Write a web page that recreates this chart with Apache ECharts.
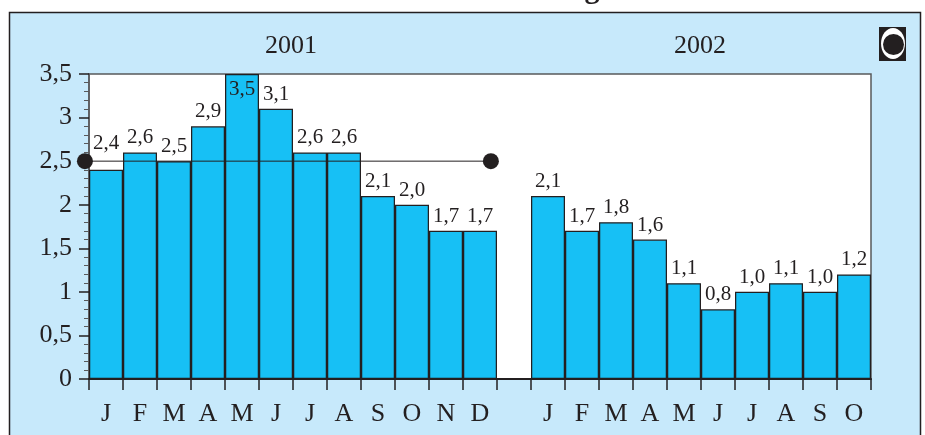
<!DOCTYPE html>
<html><head><meta charset="utf-8">
<style>html,body{margin:0;padding:0;background:#fff}#c{width:925px;height:435px}</style>
<script src="https://cdn.jsdelivr.net/npm/echarts@6/dist/echarts.min.js"></script>
</head><body><div id="c"></div>
<script>
const categories = ['J','F','M','A','M','J','J','A','S','O','N','D','','J','F','M','A','M','J','J','A','S','O'];
const values = [2.4,2.6,2.5,2.9,3.5,3.1,2.6,2.6,2.1,2.0,1.7,1.7,null,2.1,1.7,1.8,1.6,1.1,0.8,1.0,1.1,1.0,1.2];
const valueLabels = ['2,4','2,6','2,5','2,9','3,5','3,1','2,6','2,6','2,1','2,0','1,7','1,7','','2,1','1,7','1,8','1,6','1,1','0,8','1,0','1,1','1,0','1,2'];
const averageLinePoints = [[-0.12,2.5],[11.82,2.5]];
const yearLabels = ['2001','2002'];
const font = '"Liberation Serif","Times New Roman",serif';
const ink = '#231f20';
const chart = echarts.init(document.getElementById('c'),null,{renderer:'canvas'});
const L=89,R=871,T=74,B=379;
const barData = values.map((v,i)=>{
  if(v===null) return null;
  if(i===4) return {value:v,label:{position:'insideTop',distance:5}};
  if(i===0) return {value:v,label:{distance:16}};
  return v;
});
chart.setOption({
  animation:false,
  backgroundColor:'#fff',
  graphic:[
    {type:'rect',z:-10,shape:{x:9.5,y:12.5,width:911,height:440},style:{fill:'#c7e9fb',stroke:ink,lineWidth:1.5}},
    {type:'rect',z:-9,shape:{x:L,y:T,width:R-L,height:B-T},style:{fill:'#fff',stroke:'#58595b',lineWidth:1.5}},
    {type:'text',x:291,y:46,style:{text:yearLabels[0],font:'26px '+font,fill:ink,textAlign:'center',textVerticalAlign:'middle'}},
    {type:'text',x:700,y:46,style:{text:yearLabels[1],font:'26px '+font,fill:ink,textAlign:'center',textVerticalAlign:'middle'}},
    {type:'text',x:592,y:-25,style:{text:'g',font:'bold 30px '+font,fill:ink,textAlign:'center'}},
    {type:'rect',z:5,shape:{x:879,y:27,width:27,height:34},style:{fill:ink}},
    {type:'ellipse',z:6,shape:{cx:893,cy:43.5,rx:12,ry:15.5},style:{fill:'#fff'}},
    {type:'circle',z:7,shape:{cx:893.5,cy:44.5,r:10.5},style:{fill:ink}}
  ],
  grid:{left:L,right:925-R,top:T,bottom:435-B},
  xAxis:[{
    type:'category',data:categories,boundaryGap:true,
    axisLine:{show:true,lineStyle:{color:ink,width:2}},
    axisTick:{show:true,length:11,interval:0,lineStyle:{color:ink,width:1.5}},
    axisLabel:{interval:0,fontFamily:font,fontSize:26,color:ink,margin:22}
  },{
    type:'value',min:0,max:categories.length,show:false
  }],
  yAxis:[{
    type:'value',min:0,max:3.5,interval:0.5,
    axisLine:{show:true,lineStyle:{color:'#58595b',width:1.5}},
    axisTick:{show:true,length:10,lineStyle:{color:ink,width:1.5}},
    minorTick:{show:true,splitNumber:5,length:5,lineStyle:{color:'#58595b',width:1}},
    splitLine:{show:false},
    axisLabel:{fontFamily:font,fontSize:26,color:ink,margin:17,padding:[3,0,0,0],formatter:v=>String(v).replace('.',',')}
  }],
  series:[
    {type:'bar',data:barData,barWidth:'100%',z:2,
     itemStyle:{color:'#17c0f5',borderColor:ink,borderWidth:1.25},
     label:{show:true,position:'top',distance:4,fontFamily:font,fontSize:21,color:ink,
       formatter:p=>valueLabels[p.dataIndex]}},
    {type:'line',xAxisIndex:1,data:averageLinePoints,z:4,clip:false,
     symbol:'circle',symbolSize:16,itemStyle:{color:ink},lineStyle:{color:ink,width:1},silent:true}
  ]
});
</script></body></html>
